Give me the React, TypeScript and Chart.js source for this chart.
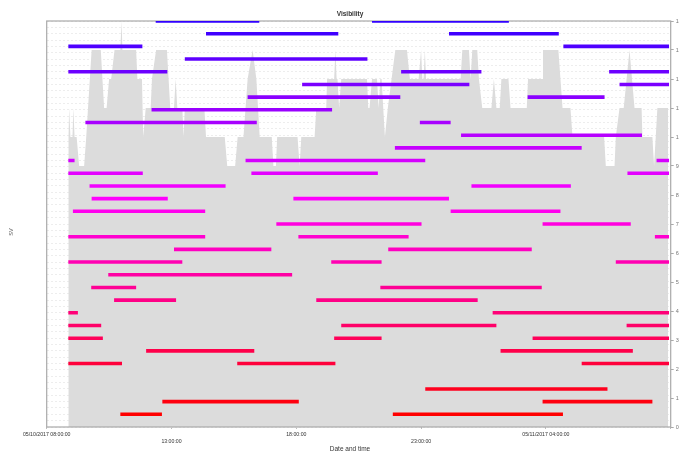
import { useEffect, useRef } from 'react';
import { Chart, registerables } from 'chart.js';

Chart.register(...registerables);

// Satellites in view over the day, minutes after 05/10/2017 08:00:00
const VIS_MINUTES = [
  52, 54, 57, 62, 64, 67, 72, 78, 90, 95, 108, 130, 138, 144, 150, 155, 163, 177, 180, 182,
  215, 218, 229, 232, 238, 250, 253, 263, 289, 293, 297, 306, 310, 314, 326, 329, 332, 379, 383, 428,
  434, 453, 459, 473, 483, 495, 504, 512, 541, 545, 551, 554, 603, 608, 612, 644, 648, 672, 674, 691,
  694, 697, 699, 703, 708, 770, 773, 776, 782, 794, 798, 802, 805, 813, 820, 838, 866, 873, 894, 900,
  903, 906, 909, 912, 995, 999, 1015, 1019, 1023, 1035, 1039, 1047, 1069, 1075, 1081, 1089, 1093, 1110, 1115, 1154,
  1157, 1191, 1193, 1230, 1235, 1240, 1259, 1264, 1340, 1344, 1365, 1368, 1377, 1387, 1401, 1413, 1430, 1432, 1456, 1460,
  1468, 1494,
];
const VIS_COUNTS = [
  10, 11, 10, 10, 11, 10, 10, 9, 9, 10, 13, 13, 11, 11, 12, 12, 13, 13, 14, 13,
  13, 12, 12, 10, 11, 11, 12, 13, 13, 12, 11, 11, 12, 11, 11, 10, 11, 11, 10, 10,
  9, 9, 10, 10, 12, 13, 12, 10, 10, 9, 9, 10, 10, 9, 10, 10, 11, 11, 12, 12,
  13, 12, 12, 11, 12, 12, 11, 11, 12, 12, 11, 12, 12, 10, 11, 13, 13, 12, 12, 13,
  12, 12, 13, 12, 12, 13, 13, 12, 13, 13, 12, 11, 11, 12, 11, 11, 12, 12, 11, 11,
  12, 12, 13, 13, 12, 11, 11, 10, 10, 9, 9, 10, 11, 11, 13, 11, 11, 10, 10, 9,
  11, 11,
];

// Satellite vehicle numbers
const SV_NUMBERS = [
  1, 2, 3, 4, 5, 6, 7, 8, 9, 10, 11, 12, 13, 14, 15, 16,
  17, 18, 19, 20, 21, 22, 23, 24, 25, 26, 27, 28, 29, 30, 31, 32,
];

// Visible passes per SV as [start, end] minutes after 08:00:00
const SV_PASSES: number[][][] = [
  [[177, 277], [832, 1241]],
  [[278, 606], [1192, 1456]],
  [[910, 1348]],
  [],
  [[52, 181], [458, 694], [1286, 1496]],
  [[239, 499], [1091, 1409]],
  [[52, 135], [691, 805], [1168, 1496]],
  [[52, 131], [708, 1081], [1394, 1496]],
  [[52, 75], [1072, 1496]],
  [[162, 311], [648, 1036]],
  [[107, 215], [802, 1190]],
  [[148, 590]],
  [[52, 326], [684, 805], [1368, 1496]],
  [[306, 540], [821, 1166]],
  [[52, 381], [605, 870], [1462, 1496]],
  [[552, 901], [1192, 1404]],
  [[63, 381], [971, 1235]],
  [[108, 291], [593, 967]],
  [[103, 430], [1021, 1260]],
  [[52, 231], [492, 796], [1396, 1496]],
  [[52, 67], [478, 910], [1466, 1496]],
  [[837, 1286]],
  [[996, 1431]],
  [[93, 505], [897, 971]],
  [[252, 686]],
  [[483, 850], [1156, 1341]],
  [[614, 1016], [1377, 1496]],
  [[52, 290], [852, 1045], [1352, 1496]],
  [[332, 771]],
  [[52, 230], [1242, 1496]],
  [[383, 701], [967, 1231]],
  [[262, 511], [782, 1111]],
];

const X_TICK_LABELS = [
  '05/10/2017 08:00:00',
  '13:00:00',
  '18:00:00',
  '23:00:00',
  '05/11/2017 04:00:00',
];
const X_TICK_STEP = 300;
const X_MAX = 1500;

const FONT = '"Liberation Sans", Arial, sans-serif';

// red for SV 1 running through magenta to blue for SV 32
function svColor(sv: number): string {
  return `hsl(${360 - (sv - 1) * 3.5}, 100%, 50%)`;
}

// frame round the plot area, drawn over the visibility fill
const framePlugin = {
  id: 'plotFrame',
  afterDatasetDraw(chart: any, args: any) {
    if (args.index !== 0) return;
    const { ctx, chartArea } = chart;
    const { left, top, right, bottom } = chartArea;
    ctx.save();
    ctx.strokeStyle = '#a9a9a9';
    ctx.lineWidth = 1.2;
    ctx.strokeRect(left, top, right - left, bottom - top);
    ctx.restore();
  },
};

// "SV" axis caption on the left
const svCaptionPlugin = {
  id: 'svCaption',
  afterDraw(chart: any) {
    const { ctx, chartArea } = chart;
    ctx.save();
    ctx.translate(11.5, (chartArea.top + chartArea.bottom) / 2 + 8);
    ctx.rotate(-Math.PI / 2);
    ctx.fillStyle = '#555';
    ctx.font = `5.5px ${FONT}`;
    ctx.textAlign = 'center';
    ctx.textBaseline = 'middle';
    ctx.fillText('SV', 0, 0);
    ctx.restore();
  },
};

export default function App() {
  const canvasRef = useRef<HTMLCanvasElement | null>(null);

  useEffect(() => {
    const canvas = canvasRef.current;
    if (!canvas) return;

    const visPoints = VIS_MINUTES.map((m, i) => ({ x: m, y: VIS_COUNTS[i] }));

    const svDatasets = SV_NUMBERS.map((sv, i) => {
      const passes = SV_PASSES[i];
      const points: { x: number; y: number | null }[] = [];
      passes.forEach(([start, end], j) => {
        if (j > 0) points.push({ x: (passes[j - 1][1] + start) / 2, y: null });
        points.push({ x: start, y: sv }, { x: end, y: sv });
      });
      return {
        type: 'line' as const,
        label: `SV ${sv}`,
        data: points,
        xAxisID: 'x',
        yAxisID: 'sv',
        borderColor: svColor(sv),
        borderWidth: 3.6,
        borderCapStyle: 'butt' as const,
        pointRadius: 0,
        fill: false,
        spanGaps: false,
        order: 1,
      };
    });

    const chart = new Chart(canvas, {
      type: 'line',
      data: {
        datasets: [
          {
            label: 'Visibility',
            data: visPoints,
            xAxisID: 'x',
            yAxisID: 'vis',
            fill: 'origin',
            backgroundColor: '#dcdcdc',
            borderColor: 'rgba(0,0,0,0)',
            borderWidth: 1,
            pointRadius: 0,
            tension: 0,
            order: 2,
          },
          ...svDatasets,
        ] as any,
      },
      options: {
        responsive: false,
        animation: false,
        events: [],
        layout: { padding: 0 },
        plugins: {
          legend: { display: false },
          tooltip: { enabled: false },
          title: {
            display: true,
            text: 'Visibility',
            color: '#333',
            font: { family: FONT, size: 6.5, weight: 'bold', lineHeight: 1.2 },
            padding: { top: 10, bottom: 3.2 },
          },
          subtitle: {
            display: true,
            position: 'bottom',
            text: 'Date and time',
            color: '#333',
            font: { family: FONT, size: 6.5, lineHeight: 1 },
            padding: { top: 0, bottom: 0 },
          },
        },
        scales: {
          x: {
            type: 'linear',
            position: 'bottom',
            min: 0,
            max: X_MAX,
            border: { display: false },
            grid: { drawOnChartArea: false, tickLength: 2, color: '#bdbdbd' },
            ticks: {
              stepSize: X_TICK_STEP,
              autoSkip: false,
              maxRotation: 0,
              minRotation: 0,
              padding: 1.5,
              color: '#333',
              font: { family: FONT, size: 5.2, lineHeight: 1.4 },
              callback: (value: any) => {
                const i = Math.round(Number(value) / X_TICK_STEP);
                const label = X_TICK_LABELS[i];
                if (label === undefined) return '';
                return i % 2 === 0 ? label : ['', label];
              },
            },
            afterFit: (scale: any) => {
              scale.height = 18.5;
            },
          },
          sv: {
            type: 'linear',
            position: 'left',
            min: 0,
            max: 32,
            border: { display: false, dash: [2, 2] },
            grid: { color: '#ededed', drawTicks: false, lineWidth: 1 },
            ticks: { display: false, stepSize: 0.5, maxTicksLimit: 100 },
            afterFit: (scale: any) => {
              scale.width = 46.7;
            },
          },
          vis: {
            type: 'linear',
            position: 'right',
            min: 0,
            max: 14,
            border: { display: false },
            grid: { drawOnChartArea: false, tickLength: 3, color: '#aaaaaa' },
            ticks: {
              stepSize: 1,
              autoSkip: false,
              padding: 2,
              color: '#777',
              font: { family: FONT, size: 5.5 },
            },
            afterFit: (scale: any) => {
              scale.width = 29.3;
            },
          },
        },
      } as any,
      plugins: [framePlugin, svCaptionPlugin],
    });

    return () => chart.destroy();
  }, []);

  return (
    <div
      style={{
        position: 'fixed',
        left: 0,
        top: 0,
        width: '679px',
        height: '452px',
        overflow: 'hidden',
        background: '#fff',
      }}
    >
      <canvas
        ref={canvasRef}
        width={700}
        height={452}
        style={{ display: 'block', width: '700px', height: '452px' }}
      />
    </div>
  );
}
